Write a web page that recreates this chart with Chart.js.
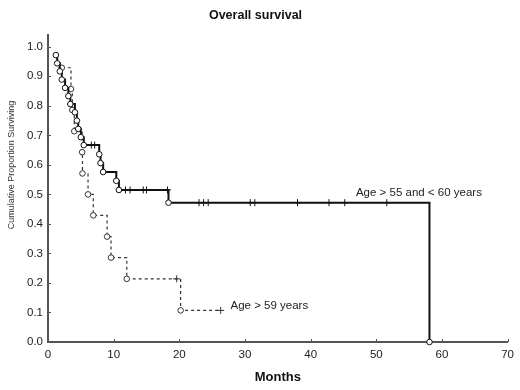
<!DOCTYPE html>
<html>
<head>
<meta charset="utf-8">
<script src="https://cdn.jsdelivr.net/npm/chart.js@4/dist/chart.umd.min.js"></script>
<style>
  html, body { margin: 0; padding: 0; background: #fff; }
  #wrap { width: 520px; height: 390px; }
</style>
</head>
<body>
<div id="wrap"><canvas id="survChart"></canvas></div>
<script>
// Kaplan-Meier curves (months, proportion surviving)
const groupNames = ['Age > 55 and < 60 years', 'Age > 59 years'];

const solidMonths   = [1.2, 1.4, 1.8, 2.1, 2.6, 3.1, 3.4, 4.1, 4.4, 4.6, 5.0, 5.45, 6.6, 7.1, 7.8, 8.0, 8.4, 10.4, 10.8,
                       11.8, 12.5, 14.5, 15.0, 18.2, 18.35, 23.0, 23.7, 24.4, 30.8, 31.5, 38.0, 42.8, 45.2, 51.6, 58.1];
const solidSurvival = [0.972, 0.944, 0.917, 0.889, 0.861, 0.833, 0.806, 0.778, 0.750, 0.722, 0.694, 0.667, 0.667, 0.667,
                       0.636, 0.606, 0.576, 0.546, 0.515, 0.515, 0.515, 0.515, 0.515, 0.515, 0.472, 0.472, 0.472, 0.472,
                       0.472, 0.472, 0.472, 0.472, 0.472, 0.472, 0.0];
const solidCensored = [0, 0, 0, 0, 0, 0, 0, 0, 0, 0, 0, 0, 1, 1, 0, 0, 0, 0, 0,
                       1, 1, 1, 1, 1, 0, 1, 1, 1, 1, 1, 1, 1, 1, 1, 0];

const dashedMonths   = [2.1, 3.5, 3.7, 4.0, 5.2, 5.25, 6.1, 6.9, 9.0, 9.6, 12.0, 19.6, 20.2, 26.3];
const dashedSurvival = [0.929, 0.857, 0.786, 0.714, 0.643, 0.571, 0.500, 0.429, 0.357, 0.286, 0.214, 0.214, 0.107, 0.107];
const dashedCensored = [0, 0, 0, 0, 0, 0, 0, 0, 0, 0, 0, 1, 0, 1];

const yTickValues = [0, 0.1, 0.2, 0.3, 0.4, 0.5, 0.6, 0.7, 0.8, 0.9, 1.0];

const FONT = '"Liberation Sans", Arial, sans-serif';

function toPoints(xs, ys) {
    return xs.map((x, i) => ({ x: x, y: ys[i] }));
}

// inward tick marks, group labels and the y title
const extras = {
    id: 'extras',
    afterDraw(chart) {
        const { ctx, chartArea, scales } = chart;
        const x = scales.x, y = scales.y;
        ctx.save();
        ctx.strokeStyle = '#555';
        ctx.lineWidth = 1;
        ctx.beginPath();
        x.ticks.forEach(t => {
            const px = Math.round(x.getPixelForValue(t.value)) + 0.5;
            ctx.moveTo(px, chartArea.bottom);
            ctx.lineTo(px, chartArea.bottom - 3);
        });
        yTickValues.forEach(v => {
            const py = Math.round(y.getPixelForValue(v)) + 0.5;
            ctx.moveTo(chartArea.left, py);
            ctx.lineTo(chartArea.left + 3, py);
        });
        ctx.stroke();

        ctx.fillStyle = '#222';
        ctx.font = '11.5px ' + FONT;
        ctx.textBaseline = 'middle';
        ctx.textAlign = 'left';
        ctx.fillText(groupNames[0], x.getPixelForValue(46.9), y.getPixelForValue(0.505));
        ctx.fillText(groupNames[1], x.getPixelForValue(27.8), y.getPixelForValue(0.124));

        ctx.translate(12, 165);
        ctx.rotate(-Math.PI / 2);
        ctx.textAlign = 'center';
        ctx.font = '9px ' + FONT;
        ctx.fillStyle = '#333';
        ctx.fillText('Cumulative Proportion Surviving', 0, 0);
        ctx.restore();
    }
};

new Chart(document.getElementById('survChart'), {
    type: 'line',
    data: {
        datasets: [{
            label: groupNames[0],
            data: toPoints(solidMonths, solidSurvival),
            borderColor: '#111',
            borderWidth: 2,
            stepped: 'before',
            fill: false,
            clip: false,
            pointStyle: ctx => solidCensored[ctx.dataIndex] ? 'cross' : 'circle',
            pointRadius: ctx => solidCensored[ctx.dataIndex] ? 3.5 : 2.8,
            pointBorderWidth: 1,
            pointBorderColor: '#111',
            pointBackgroundColor: '#fff'
        }, {
            label: groupNames[1],
            data: toPoints(dashedMonths, dashedSurvival),
            borderColor: '#333',
            borderWidth: 1.2,
            borderDash: [3, 3],
            stepped: 'before',
            fill: false,
            clip: false,
            pointStyle: ctx => dashedCensored[ctx.dataIndex] ? 'cross' : 'circle',
            pointRadius: ctx => dashedCensored[ctx.dataIndex] ? 3.5 : 2.8,
            pointBorderWidth: 1,
            pointBorderColor: '#333',
            pointBackgroundColor: '#fff'
        }]
    },
    options: {
        responsive: true,
        maintainAspectRatio: false,
        animation: false,
        layout: { padding: { left: 0, right: 9, top: 0, bottom: 0 } },
        plugins: {
            legend: { display: false },
            tooltip: { enabled: false },
            title: {
                display: true,
                text: 'Overall survival',
                color: '#111',
                font: { family: FONT, size: 12.5, weight: 'bold' },
                padding: { top: 8, bottom: 12 }
            }
        },
        scales: {
            x: {
                type: 'linear',
                min: 0,
                max: 70,
                afterFit: scale => { scale.height = 48; },
                grid: { display: false, drawTicks: false },
                border: { display: true, color: '#555', width: 2 },
                ticks: { stepSize: 10, padding: 6, color: '#222', font: { family: FONT, size: 11.5 } },
                title: {
                    display: true,
                    text: 'Months',
                    color: '#111',
                    font: { family: FONT, size: 13, weight: 'bold' },
                    padding: { top: 0, bottom: 5 }
                }
            },
            y: {
                type: 'linear',
                min: 0,
                max: 1.04,
                afterFit: scale => { scale.width = 48; },
                grid: { display: false, drawTicks: false },
                border: { display: true, color: '#555', width: 2 },
                ticks: {
                    stepSize: 0.1,
                    includeBounds: false,
                    padding: 5,
                    color: '#222',
                    font: { family: FONT, size: 11.5 },
                    callback: v => v <= 1.0001 ? v.toFixed(1) : ''
                }
            }
        }
    },
    plugins: [extras]
});
</script>
</body>
</html>
